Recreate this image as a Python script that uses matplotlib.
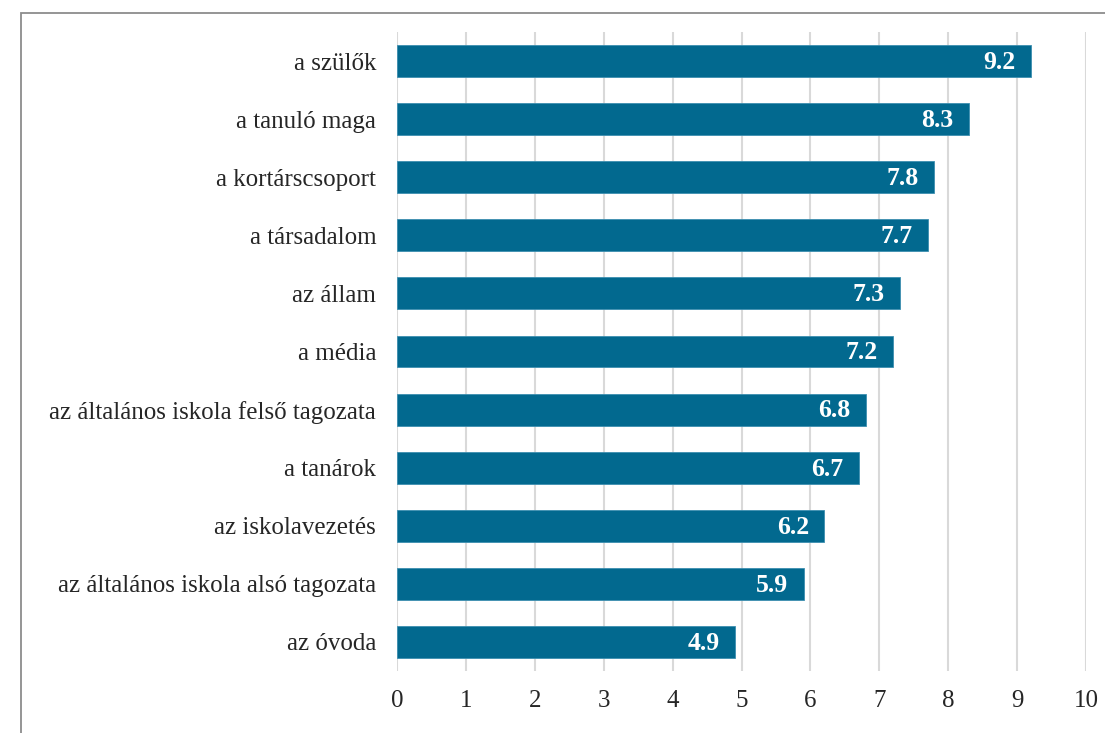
import matplotlib.pyplot as plt
from matplotlib.patches import Rectangle

# ── data ──────────────────────────────────────────────────────────────────────
categories = [
    "a szülők",
    "a tanuló maga",
    "a kortárscsoport",
    "a társadalom",
    "az állam",
    "a média",
    "az általános iskola felső tagozata",
    "a tanárok",
    "az iskolavezetés",
    "az általános iskola alsó tagozata",
    "az óvoda",
]
values = [9.2, 8.3, 7.8, 7.7, 7.3, 7.2, 6.8, 6.7, 6.2, 5.9, 4.9]
xticks = list(range(0, 11))

plt.rcParams["font.family"] = ["Liberation Serif", "DejaVu Serif"]

fig = plt.figure(figsize=(11.05, 7.33), dpi=100)
ax = fig.add_axes([0.3593, 0.0846, 0.9828 - 0.3593, 0.9563 - 0.0846])

# outer frame of the chart box
fig.patches.append(Rectangle((21 / 1105, -0.1), 1.2, 1 - 13 / 733 + 0.1,
                             transform=fig.transFigure, fill=False,
                             edgecolor="#8c8c8c", linewidth=1.3))

bar_color = "#02698f"
pos = list(range(len(categories)))
bars = ax.barh(pos, values, height=0.55, color=bar_color,
               edgecolor="#3d8fb0", linewidth=0.6, zorder=3)

for y, v in zip(pos, values):
    ax.annotate(f"{v:.1f}", xy=(v, y), xytext=(-11, -1), textcoords="offset points",
                ha="right", va="center", color="white", fontsize=18.5,
                fontweight="bold", zorder=4)

ax.set_xlim(0, 10)
ax.set_ylim(len(categories) - 0.5, -0.5)
ax.set_xticks(xticks)
ax.set_yticks(pos)
ax.set_yticklabels(categories)
ax.tick_params(axis="both", length=0, labelsize=18, colors="#262626")
ax.tick_params(axis="x", pad=14)
ax.tick_params(axis="y", pad=15)
ax.grid(axis="x", color="#d9d9d9", linewidth=1.5, zorder=0)
for s in ax.spines.values():
    s.set_visible(False)

fig.savefig("out.png", dpi=100)
